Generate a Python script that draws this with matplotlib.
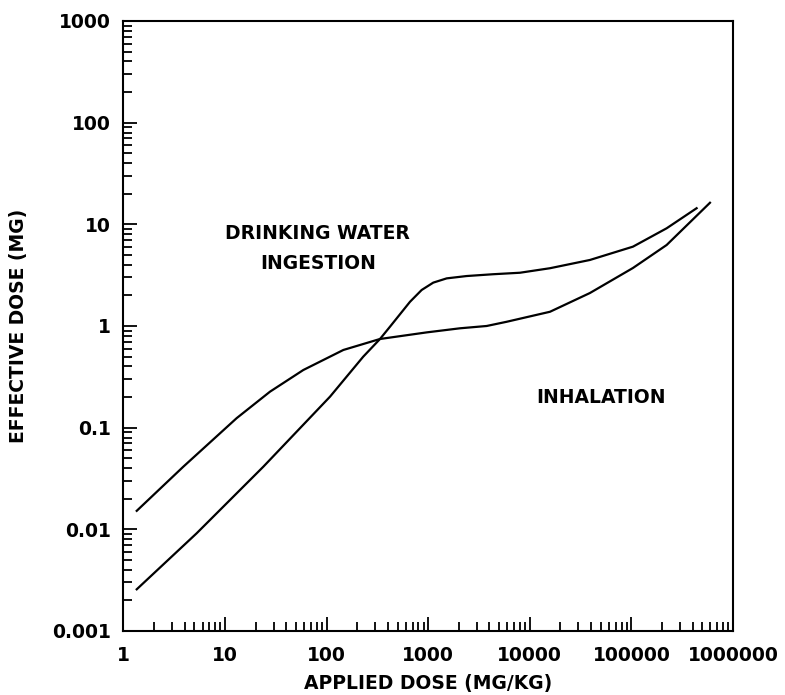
import matplotlib
matplotlib.use('Agg')
import matplotlib.pyplot as plt
from matplotlib.ticker import LogLocator, FixedFormatter, FixedLocator, NullFormatter

# values (log-log)
ingestion_x = [1.35, 5.25, 23.8, 108, 229, 335, 420, 661, 861, 1120, 1518,
               2388, 4364, 7990, 15780, 39000, 103500, 222000, 438000]
ingestion_y = [0.00257, 0.00914, 0.0413, 0.202, 0.499, 0.745, 0.984, 1.73, 2.26,
               2.67, 2.94, 3.10, 3.23, 3.34, 3.70, 4.46, 6.03, 9.14, 14.4]

inhalation_x = [1.35, 3.88, 13.0, 27.7, 58.9, 146, 335, 964, 2050, 3756, 5910,
                15780, 39000, 103500, 222000, 593000]
inhalation_y = [0.0152, 0.0413, 0.124, 0.226, 0.369, 0.581, 0.745, 0.865, 0.949,
                1.0, 1.10, 1.38, 2.11, 3.72, 6.26, 16.3]

x_ticks = [1, 10, 100, 1000, 10000, 100000, 1000000]
x_labels = ['1', '10', '100', '1000', '10000', '100000', '1000000']
y_ticks = [0.001, 0.01, 0.1, 1, 10, 100, 1000]
y_labels = ['0.001', '0.01', '0.1', '1', '10', '100', '1000']

plt.rcParams['font.family'] = ['DejaVu Sans']
plt.rcParams['font.weight'] = 'bold'
plt.rcParams['axes.labelweight'] = 'bold'

fig = plt.figure(figsize=(7.85, 6.95), dpi=100)
ax = fig.add_axes([0.1573, 0.0921, 0.9338 - 0.1573, 0.9698 - 0.0921])

ax.plot(ingestion_x, ingestion_y, color='black', lw=1.6)
ax.plot(inhalation_x, inhalation_y, color='black', lw=1.6)

ax.set_xscale('log')
ax.set_yscale('log')
ax.set_xlim(1, 1e6)
ax.set_ylim(0.001, 1000)

ax.xaxis.set_major_locator(FixedLocator(x_ticks))
ax.xaxis.set_major_formatter(FixedFormatter(x_labels))
ax.yaxis.set_major_locator(FixedLocator(y_ticks))
ax.yaxis.set_major_formatter(FixedFormatter(y_labels))
ax.xaxis.set_minor_locator(LogLocator(base=10, subs=range(2, 10), numticks=20))
ax.yaxis.set_minor_locator(LogLocator(base=10, subs=range(2, 10), numticks=20))
ax.xaxis.set_minor_formatter(NullFormatter())
ax.yaxis.set_minor_formatter(NullFormatter())

ax.tick_params(which='both', direction='in', top=False, right=False,
               width=1.3, color='black')
ax.tick_params(which='major', length=10, labelsize=13.5, pad=9)
ax.tick_params(which='minor', length=6.5)
ax.tick_params(axis='x', which='major', pad=11)

for s in ax.spines.values():
    s.set_linewidth(1.5)

ax.set_xlabel('APPLIED DOSE (MG/KG)', fontsize=13.5, fontweight='bold', labelpad=6)
ax.set_ylabel('EFFECTIVE DOSE (MG)', fontsize=13.5, fontweight='bold', labelpad=17)

ax.text(82, 5.78, 'DRINKING WATER\nINGESTION', ha='center', va='center',
        fontsize=13.5, linespacing=1.75)
ax.text(50100, 0.2, 'INHALATION', ha='center', va='center', fontsize=13.5)

fig.savefig('out.png', dpi=100)
